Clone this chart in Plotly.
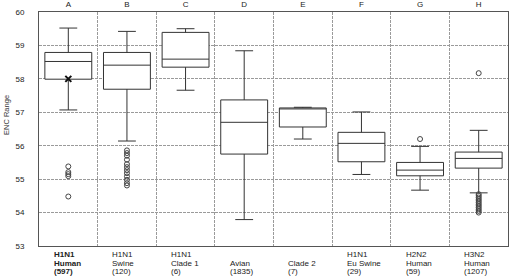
import plotly.graph_objects as go

# ---- data ----
letters = ["A", "B", "C", "D", "E", "F", "G", "H"]
groups = [["H1N1", "Human", "(597)"], ["H1N1", "Swine", "(120)"], ["H1N1", "Clade 1", "(6)"],
          ["Avian", "(1835)"], ["Clade 2", "(7)"], ["H1N1", "Eu Swine", "(29)"],
          ["H2N2", "Human", "(59)"], ["H3N2", "Human", "(1207)"]]
bold_groups = ["A"]
lower = [57.07, 56.14, 57.66, 53.79, 56.20, 55.14, 54.67, 54.59]
q1 = [57.99, 57.69, 58.35, 55.75, 56.56, 55.52, 55.10, 55.33]
median = [58.52, 58.41, 58.59, 56.70, 57.12, 56.07, 55.27, 55.62]
q3 = [58.79, 58.79, 59.39, 57.37, 57.13, 56.40, 55.50, 55.81]
upper = [59.52, 59.42, 59.50, 58.84, 57.15, 57.01, 55.98, 56.46]
outliers = {
    "A": [55.38, 55.21, 55.15, 55.09, 54.48],
    "B": [55.86, 55.78, 55.70, 55.58, 55.45, 55.36, 55.27, 55.18, 55.08, 54.98, 54.88, 54.81],
    "G": [56.20],
    "H": [58.17, 54.55, 54.50, 54.45, 54.40, 54.35, 54.30, 54.25, 54.20, 54.15, 54.10, 54.05, 54.00],
}
mean_marks = {"A": 58.00}

fig = go.Figure()
for i, c in enumerate(letters):
    fig.add_trace(go.Box(
        x=[c], q1=[q1[i]], median=[median[i]], q3=[q3[i]],
        lowerfence=[lower[i]], upperfence=[upper[i]],
        width=0.8, whiskerwidth=0.38, boxpoints=False,
        fillcolor="white", line=dict(color="#333333", width=1),
        showlegend=False, hoverinfo="skip"))

for c, vals in outliers.items():
    fig.add_trace(go.Scatter(
        x=[c] * len(vals), y=vals, mode="markers",
        marker=dict(symbol="circle-open", size=5, color="#444444", line=dict(width=1)),
        showlegend=False, hoverinfo="skip"))

for c, v in mean_marks.items():
    fig.add_trace(go.Scatter(
        x=[c], y=[v], mode="markers",
        marker=dict(symbol="x-thin", size=6, color="#111111", line=dict(width=2, color="#111111")),
        showlegend=False, hoverinfo="skip"))

font_main = "Liberation Sans, Arial, sans-serif"
line_step = 8.3
for i, lines in enumerate(groups):
    n = len(lines)
    for j, t in enumerate(lines):
        k = n - 1 - j  # index from bottom
        txt = f"<b>{t}</b>" if letters[i] in bold_groups else t
        fig.add_annotation(
            x=letters[i], xref="x", y=0, yref="paper", text=txt,
            xanchor="left", yanchor="bottom", align="left",
            xshift=-15.5, yshift=-31 + k * line_step, showarrow=False,
            borderpad=0,
            font=dict(family=font_main, size=8, color="#222222"))

fig.add_annotation(
    x=0, xref="paper", y=0.56, yref="paper", text="ENC Range",
    textangle=-90, xanchor="center", yanchor="middle", xshift=-32,
    showarrow=False, font=dict(family=font_main, size=7.5, color="#333333"))

fig.update_layout(
    width=510, height=278,
    margin=dict(l=39, r=2, t=12, b=32, autoexpand=False),
    paper_bgcolor="white", plot_bgcolor="white",
    boxmode="overlay",
    font=dict(family=font_main, size=8, color="#222222"),
    xaxis=dict(
        type="category", categoryorder="array", categoryarray=letters,
        side="top", tickson="boundaries", ticks="", automargin=False,
        ticklabelstandoff=1,
        showgrid=True, gridcolor="#9a9a9a", griddash="3px,1px", gridwidth=1,
        showline=True, linecolor="#555555", linewidth=1, mirror=True,
        tickfont=dict(size=8, color="#222222"), range=[-0.5, 7.5], zeroline=False),
    yaxis=dict(
        range=[53, 60], tickvals=[53, 54, 55, 56, 57, 58, 59, 60],
        showgrid=True, gridcolor="#9a9a9a", griddash="3px,1px", gridwidth=1,
        showline=True, linecolor="#555555", linewidth=1, mirror=True,
        ticks="", ticklabelstandoff=12, zeroline=False, automargin=False,
        tickfont=dict(size=8, color="#222222")),
)

fig.write_html("out.html",
               config={"displayModeBar": False, "staticPlot": True},
               post_script="document.body.style.margin='0';document.body.style.overflow='hidden';")
